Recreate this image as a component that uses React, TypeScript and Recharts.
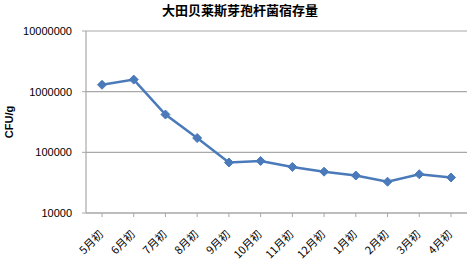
import { LineChart, Line, XAxis, YAxis, CartesianGrid } from "recharts";

// 大田贝莱斯芽孢杆菌宿存量 (log scale line chart)

const months = ["5月初", "6月初", "7月初", "8月初", "9月初", "10月初", "11月初", "12月初", "1月初", "2月初", "3月初", "4月初"];
const counts = [1300000, 1580000, 420000, 172000, 68000, 72000, 57500, 48000, 41500, 32800, 43500, 38500];
const yTicks = [10000, 100000, 1000000, 10000000];

const data = months.map((m, i) => ({ month: m, cfu: counts[i] }));

const BLUE = "#4a7ab9";
const GRID = "#a8a8a8";

function Diamond(props: any) {
  const { cx, cy } = props;
  if (cx == null || cy == null) return null;
  const r = 4.5;
  return (
    <polygon
      points={`${cx},${cy - r} ${cx + r},${cy} ${cx},${cy + r} ${cx - r},${cy}`}
      fill={BLUE}
      stroke={BLUE}
      strokeWidth={1}
    />
  );
}

function MonthTick(props: any) {
  const { x, y, payload } = props;
  const tx = x + 2;
  const ty = y + 16;
  return (
    <text
      x={tx}
      y={ty}
      transform={`rotate(-45, ${tx}, ${ty})`}
      textAnchor="end"
      fontSize={11}
      fill="#000"
      fontFamily="'Noto Sans CJK SC', sans-serif"
    >
      {payload.value}
    </text>
  );
}

export default function App() {
  return (
    <div style={{ position: "absolute", left: 0, top: 0, width: 472, height: 261, background: "#fff" }}>
      <div
        style={{
          position: "absolute",
          left: 0,
          top: 1,
          width: 480,
          textAlign: "center",
          fontFamily: "'Noto Sans CJK SC', sans-serif",
          fontWeight: 700,
          fontSize: 13,
          lineHeight: "18px",
          color: "#000",
        }}
      >
        大田贝莱斯芽孢杆菌宿存量
      </div>
      <LineChart width={472} height={261} data={data} margin={{ top: 31, right: 5, bottom: 0, left: 0 }}>
        <CartesianGrid vertical={false} stroke={GRID} strokeWidth={1.2} />
        <XAxis
          dataKey="month"
          interval={0}
          padding={{ left: 16, right: 16 }}
          axisLine={{ stroke: GRID, strokeWidth: 1.2 }}
          tickLine={{ stroke: GRID }}
          tickSize={4}
          height={48}
          tick={<MonthTick />}
        />
        <YAxis
          scale="log"
          domain={[10000, 10000000]}
          ticks={yTicks}
          allowDataOverflow
          width={86}
          axisLine={{ stroke: GRID, strokeWidth: 1.2 }}
          tickLine={{ stroke: GRID }}
          tickSize={4}
          tickMargin={10}
          tick={{ fontSize: 11, fill: "#000", fontFamily: "'Liberation Sans', Arial, sans-serif" }}
          label={{
            value: "CFU/g",
            angle: -90,
            position: "insideLeft",
            offset: 9,
            style: { fontSize: 11, fontWeight: 700, fill: "#000", fontFamily: "'Liberation Sans', Arial, sans-serif", textAnchor: "middle" },
          }}
        />
        <Line
          type="linear"
          dataKey="cfu"
          stroke={BLUE}
          strokeWidth={2.5}
          dot={<Diamond />}
          activeDot={false}
          isAnimationActive={false}
        />
      </LineChart>
    </div>
  );
}
